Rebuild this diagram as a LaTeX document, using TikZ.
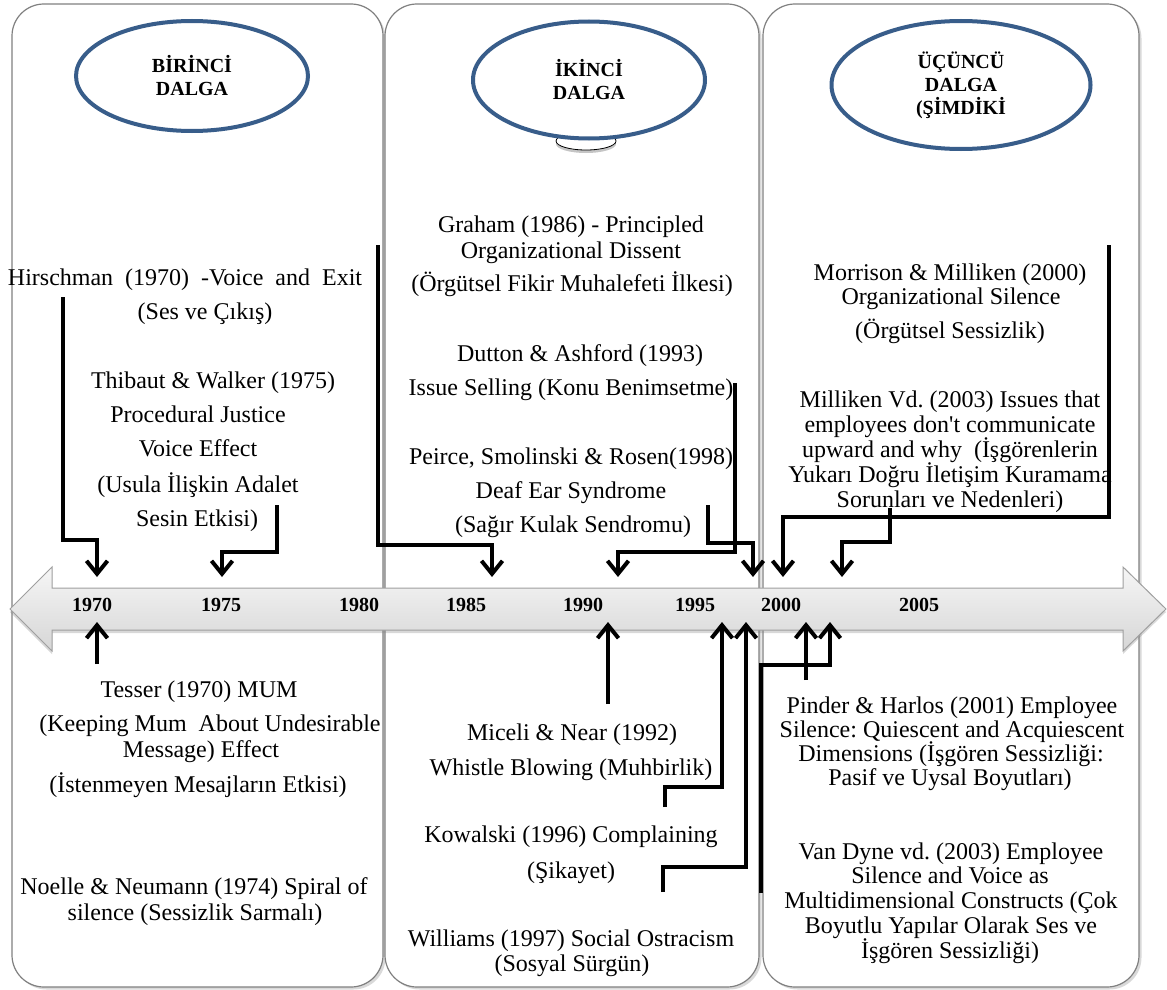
\documentclass[tikz,border=0pt]{standalone}
\usepackage{fontspec}
\setmainfont{Liberation Serif}
\usetikzlibrary{arrows.meta,shapes.geometric,shadows}
\definecolor{ovalblue}{RGB}{56,93,138}
\definecolor{panelgray}{RGB}{128,128,128}
\definecolor{barlight}{RGB}{246,246,246}
\definecolor{bardark}{RGB}{214,214,214}
\newcommand\tline[4]{\node[txt] (#1) at (#2,#3) {#4};}
\frenchspacing
\begin{document}
\begin{tikzpicture}[x=1pt,y=-1pt,
  panel/.style={draw=panelgray, line width=1.2pt, rounded corners=32pt, fill=white,
    drop shadow={shadow xshift=2.5pt, shadow yshift=-2.5pt, opacity=0.3}},
  wave/.style={ellipse, draw=ovalblue, line width=4pt, fill=white, inner sep=0pt,
    align=center, font=\fontsize{20}{23}\selectfont\bfseries},
  year/.style={font=\fontsize{20}{24}\selectfont\bfseries, inner sep=0pt},
  txt/.style={font=\fontsize{24}{25}\selectfont, inner sep=0pt, anchor=base},
  link/.style={line width=4pt, line join=miter, -{Straight Barb[length=13pt,width=21pt]}}]
\useasboundingbox (0,0) rectangle (1167,990);

% three wave panels
\draw[panel] (12,4) rectangle (383,987);
\draw[panel] (385,4) rectangle (759,987);
\draw[panel] (763,4) rectangle (1139,987);

% wave titles
\node[ellipse, draw=black, line width=0.8pt, fill=white, minimum width=60pt, minimum height=18pt,
  drop shadow={shadow xshift=0pt, shadow yshift=-3pt, opacity=0.45}] (stand) at (586,141) {};
\node[wave, minimum width=232pt, minimum height=110pt] (w1) at (192,76) {BİRİNCİ\\DALGA};
\node[wave, minimum width=232pt, minimum height=117pt] (w2) at (589,80) {İKİNCİ\\DALGA};
\node[wave, minimum width=259pt, minimum height=128pt] (w3) at (961,85) {ÜÇÜNCÜ\\DALGA\\(ŞİMDİKİ};

% time axis
\draw[draw=gray!75, line width=1pt, top color=barlight, bottom color=bardark,
  drop shadow={shadow xshift=0pt, shadow yshift=-3pt, opacity=0.3}]
  (10,609) -- (52,567) -- (52,588) -- (1123,588) -- (1123,567) -- (1166,609)
  -- (1123,651) -- (1123,630) -- (52,630) -- (52,651) -- cycle;
\node[year] (y1970) at (92,605) {1970};
\node[year] (y1975) at (221,605) {1975};
\node[year] (y1980) at (359,605) {1980};
\node[year] (y1985) at (466,605) {1985};
\node[year] (y1990) at (583,605) {1990};
\node[year] (y1995) at (695,605) {1995};
\node[year] (y2000) at (781,605) {2000};
\node[year] (y2005) at (919,605) {2005};

% first wave
\tline{hir1}{185}{285}{\spaceskip=12pt Hirschman (1970) -Voice and Exit}
\tline{hir2}{205}{319}{(Ses ve Çıkış)}
\tline{thi1}{213}{388}{Thibaut \& Walker (1975)}
\tline{thi2}{198}{422}{Procedural Justice}
\tline{thi3}{198}{456}{Voice Effect}
\tline{thi4}{198}{492}{(Usula İlişkin Adalet}
\tline{thi5}{197}{526}{Sesin Etkisi)}
\tline{tes1}{199}{697}{Tesser (1970) MUM}
\tline{tes2}{210}{731}{(Keeping Mum\ \ About Undesirable}
\tline{tes3}{201}{757}{Message) Effect}
\tline{tes4}{198}{792}{(İstenmeyen Mesajların Etkisi)}
\tline{noe1}{194}{894}{Noelle \& Neumann (1974) Spiral of}
\tline{noe2}{195}{920}{silence (Sessizlik Sarmalı)}

% second wave
\tline{gra1}{571}{232}{Graham (1986) - Principled}
\tline{gra2}{571}{258}{Organizational Dissent}
\tline{gra3}{572}{291}{(Örgütsel Fikir Muhalefeti İlkesi)}
\tline{dut1}{580}{361}{Dutton \& Ashford (1993)}
\tline{dut2}{571}{395}{Issue Selling (Konu Benimsetme)}
\tline{pei1}{571}{464}{Peirce, Smolinski \& Rosen(1998)}
\tline{pei2}{571}{498}{Deaf Ear Syndrome}
\tline{pei3}{573}{532}{(Sağır Kulak Sendromu)}
\tline{mic1}{572}{740}{Miceli \& Near (1992)}
\tline{mic2}{571}{775}{Whistle Blowing (Muhbirlik)}
\tline{kow1}{571}{842}{Kowalski (1996) Complaining}
\tline{kow2}{571}{878}{(Şikayet)}
\tline{wil1}{571}{946}{Williams (1997) Social Ostracism}
\tline{wil2}{572}{971}{(Sosyal Sürgün)}

% third wave
\tline{mor1}{950}{280}{Morrison \& Milliken (2000)}
\tline{mor2}{951}{304}{Organizational Silence}
\tline{mor3}{950}{338}{(Örgütsel Sessizlik)}
\tline{mil1}{950}{407}{Milliken Vd. (2003) Issues that}
\tline{mil2}{950}{432}{employees don\textquotesingle t communicate}
\tline{mil3}{950}{457}{upward and why\ \ (İşgörenlerin}
\tline{mil4}{950}{482}{Yukarı Doğru İletişim Kuramama}
\tline{mil5}{950}{507}{Sorunları ve Nedenleri)}
\tline{pin1}{952}{713}{Pinder \& Harlos (2001) Employee}
\tline{pin2}{952}{737}{Silence: Quiescent and Acquiescent}
\tline{pin3}{951}{761}{Dimensions (İşgören Sessizliği:}
\tline{pin4}{950}{785}{Pasif ve Uysal Boyutları)}
\tline{van1}{951}{859}{Van Dyne vd. (2003) Employee}
\tline{van2}{950}{883}{Silence and Voice as}
\tline{van3}{951}{908}{Multidimensional Constructs (Çok}
\tline{van4}{951}{933}{Boyutlu Yapılar Olarak Ses ve}
\tline{van5}{950}{958}{İşgören Sessizliği)}

% connector ends
\coordinate (hirS) at (63,297);   \coordinate (hirE) at (97,577);
\coordinate (thiS) at (277,505);  \coordinate (thiE) at (222,577);
\coordinate (graS) at (378,245);  \coordinate (graE) at (492,577);
\coordinate (dutS) at (735,383);  \coordinate (dutE) at (618,577);
\coordinate (peiS) at (708,505);  \coordinate (peiE) at (753,577);
\coordinate (morS) at (1109,245); \coordinate (morE) at (783,577);
\coordinate (milS) at (890,508);  \coordinate (milE) at (842,577);
\coordinate (tesS) at (97,664);   \coordinate (tesE) at (97,622);
\coordinate (micS) at (608,704);  \coordinate (micE) at (608,622);
\coordinate (kowS) at (665,807);  \coordinate (kowE) at (722,622);
\coordinate (wilS) at (663,892);  \coordinate (wilE) at (746,622);
\coordinate (pinS) at (806,680);  \coordinate (pinE) at (806,622);
\coordinate (vanS) at (761,893);  \coordinate (vanE) at (830,622);

% connectors above the axis
\draw[link] (hirS) -- ++(0,243) -| (hirE);
\draw[link] (thiS) -- ++(0,47) -| (thiE);
\draw[link] (graS) -- ++(0,300) -| (graE);
\draw[link] (dutS) -- ++(0,169) -| (dutE);
\draw[link] (peiS) -- ++(0,38) -| (peiE);
\draw[link] (morS) -- ++(0,272) -| (morE);
\draw[link] (milS) -- ++(0,34) -| (milE);
% connectors below the axis
\draw[link] (tesS) -- (tesE);
\draw[link] (micS) -- (micE);
\draw[link] (kowS) -- ++(0,-20) -| (kowE);
\draw[link] (wilS) -- ++(0,-25) -| (wilE);
\draw[link] (pinS) -- (pinE);
\draw[link] (vanS) -- ++(0,-228) -| (vanE);
\end{tikzpicture}
\end{document}
